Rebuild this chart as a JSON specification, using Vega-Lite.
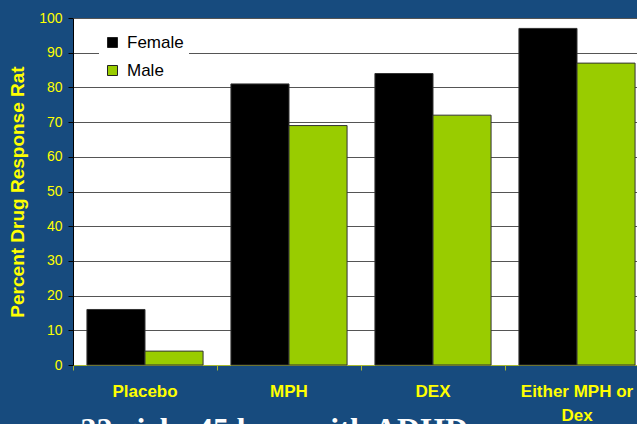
{
  "$schema": "https://vega.github.io/schema/vega-lite/v6.json",
  "width": 564,
  "height": 347,
  "autosize": {"type": "none"},
  "padding": {"left": 73, "top": 18, "right": 0, "bottom": 59},
  "background": "#174b7e",
  "data": {
    "values": [
      {"drug": "Placebo", "sex": "Female", "pct": 16},
      {"drug": "Placebo", "sex": "Male", "pct": 4},
      {"drug": "MPH", "sex": "Female", "pct": 81},
      {"drug": "MPH", "sex": "Male", "pct": 69},
      {"drug": "DEX", "sex": "Female", "pct": 84},
      {"drug": "DEX", "sex": "Male", "pct": 72},
      {"drug": "Either MPH or Dex", "sex": "Female", "pct": 97},
      {"drug": "Either MPH or Dex", "sex": "Male", "pct": 87}
    ]
  },
  "mark": {"type": "bar", "stroke": "#333333", "strokeWidth": 1},
  "encoding": {
    "x": {
      "field": "drug",
      "type": "nominal",
      "sort": ["Placebo", "MPH", "DEX", "Either MPH or Dex"],
      "scale": {"paddingInner": 0, "paddingOuter": 0, "range": [0, 576]},
      "axis": {
        "title": "n = 32 girls, 45 boys with ADHD",
        "titleFont": "Liberation Serif",
        "titleFontSize": 32,
        "titleFontWeight": "bold",
        "titleColor": "white",
        "titleAnchor": "start",
        "titleAlign": "left",
        "titleBaseline": "alphabetic",
        "titleX": -45,
        "titleY": 74,
        "bandPosition": 0,
        "labelAngle": 0,
        "labelFont": "Liberation Sans",
        "labelFontSize": 17,
        "labelFontWeight": "bold",
        "labelColor": "#ffff00",
        "labelPadding": 13,
        "labelLineHeight": 24,
        "labelExpr": "datum.label == 'Either MPH or Dex' ? ['Either MPH or', 'Dex'] : datum.label",
        "domainColor": "#a8b830",
        "tickColor": "#a8b830",
        "tickSize": 5,
        "grid": false
      }
    },
    "xOffset": {
      "field": "sex",
      "sort": ["Female", "Male"],
      "scale": {"paddingInner": 0, "paddingOuter": 0.24}
    },
    "y": {
      "field": "pct",
      "type": "quantitative",
      "scale": {"domain": [0, 100]},
      "axis": {
        "title": "Percent Drug Response Rat",
        "titleFont": "Liberation Sans",
        "titleFontSize": 19,
        "titleFontWeight": "bold",
        "titleColor": "#ffff00",
        "titlePadding": 11,
        "labelFont": "Liberation Sans",
        "labelFontSize": 14,
        "labelColor": "#ffff00",
        "labelPadding": 6,
        "values": [0, 10, 20, 30, 40, 50, 60, 70, 80, 90, 100],
        "tickColor": "black",
        "tickSize": 5,
        "domainColor": "black",
        "gridColor": "#555555",
        "gridOpacity": 1
      }
    },
    "color": {
      "field": "sex",
      "type": "nominal",
      "scale": {"domain": ["Female", "Male"], "range": ["#000000", "#99cc00"]},
      "legend": {
        "title": null,
        "orient": "none",
        "legendX": 26,
        "legendY": 11,
        "fillColor": "white",
        "padding": 5,
        "symbolType": "square",
        "symbolSize": 100,
        "symbolStrokeColor": "#222222",
        "symbolStrokeWidth": 1,
        "labelFont": "Liberation Sans",
        "labelFontSize": 17,
        "labelColor": "black",
        "labelOffset": 6,
        "rowPadding": 10
      }
    }
  },
  "config": {"view": {"fill": "white", "stroke": null}}
}
